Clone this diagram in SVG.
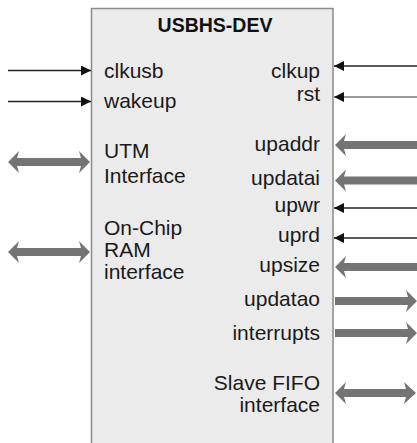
<svg xmlns="http://www.w3.org/2000/svg" width="417" height="443" viewBox="0 0 417 443">
<style>
.lbl{font-family:"Liberation Sans",Arial,sans-serif;font-size:21px;fill:#1a1a1a}
.r{text-anchor:end}
.title{font-family:"Liberation Sans",Arial,sans-serif;font-size:19.5px;font-weight:bold;fill:#111;text-anchor:middle}
.thin{stroke:#222;stroke-width:1.5;fill:none}
.thick{fill:#747474}
</style>
<defs>
<marker id="ah" viewBox="0 0 10 10" refX="10" refY="5" markerWidth="10" markerHeight="10" markerUnits="userSpaceOnUse" orient="auto">
<path d="M0,0 L10,5 L0,10 Z" fill="#111"/>
</marker>
</defs>
<rect width="417" height="443" fill="#ffffff"/>
<g id="usbhs-dev">
<rect x="91.5" y="8.5" width="241.5" height="440" fill="#ebebeb" stroke="#8a8a8a" stroke-width="1.5"/>
<text class="title" x="215" y="31.5">USBHS-DEV</text>
<text class="lbl" x="104" y="78">clkusb</text>
<text class="lbl" x="104" y="108">wakeup</text>
<text class="lbl" x="104" y="158">UTM</text>
<text class="lbl" x="104" y="183">Interface</text>
<text class="lbl" x="104" y="235">On-Chip</text>
<text class="lbl" x="104" y="257">RAM</text>
<text class="lbl" x="104" y="279">interface</text>
<text class="lbl r" x="320" y="78">clkup</text>
<text class="lbl r" x="320" y="101">rst</text>
<text class="lbl r" x="320" y="151">upaddr</text>
<text class="lbl r" x="320" y="185">updatai</text>
<text class="lbl r" x="320" y="212">upwr</text>
<text class="lbl r" x="320" y="242">uprd</text>
<text class="lbl r" x="320" y="272">upsize</text>
<text class="lbl r" x="320" y="306">updatao</text>
<text class="lbl r" x="320" y="340">interrupts</text>
<text class="lbl r" x="320" y="390">Slave FIFO</text>
<text class="lbl r" x="320" y="412">interface</text>
</g>
<g id="connectors">
<line class="thin" x1="8" y1="70.5" x2="91" y2="70.5" marker-end="url(#ah)"/>
<line class="thin" x1="8" y1="101.5" x2="91" y2="101.5" marker-end="url(#ah)"/>
<line class="thin" x1="417" y1="66" x2="334" y2="66" marker-end="url(#ah)"/>
<line class="thin" x1="417" y1="97" x2="334" y2="97" marker-end="url(#ah)" style="stroke:#777"/>
<line class="thin" x1="417" y1="208" x2="334" y2="208" marker-end="url(#ah)"/>
<line class="thin" x1="417" y1="238" x2="334" y2="238" marker-end="url(#ah)"/>
<polygon class="thick" points="8,162 19,151 17,158 81,158 79,151 90,162 79,173 81,166 17,166 19,173"/>
<polygon class="thick" points="8,252 19,241 17,248 81,248 79,241 90,252 79,263 81,256 17,256 19,263"/>
<polygon class="thick" points="335,145 346,134 344,141 417,141 417,149 344,149 346,156"/>
<polygon class="thick" points="335,180.5 346,169.5 344,176.5 417,176.5 417,184.5 344,184.5 346,191.5"/>
<polygon class="thick" points="335,267 346,256 344,263 417,263 417,271 344,271 346,278"/>
<polygon class="thick" points="417,301 406,290 408,297 335,297 335,305 408,305 406,312"/>
<polygon class="thick" points="417,333 406,322 408,329 335,329 335,337 408,337 406,344"/>
<polygon class="thick" points="335,393 346,382 344,389 406,389 404,382 416,393 404,404 406,397 344,397 346,404"/>
</g>
</svg>
